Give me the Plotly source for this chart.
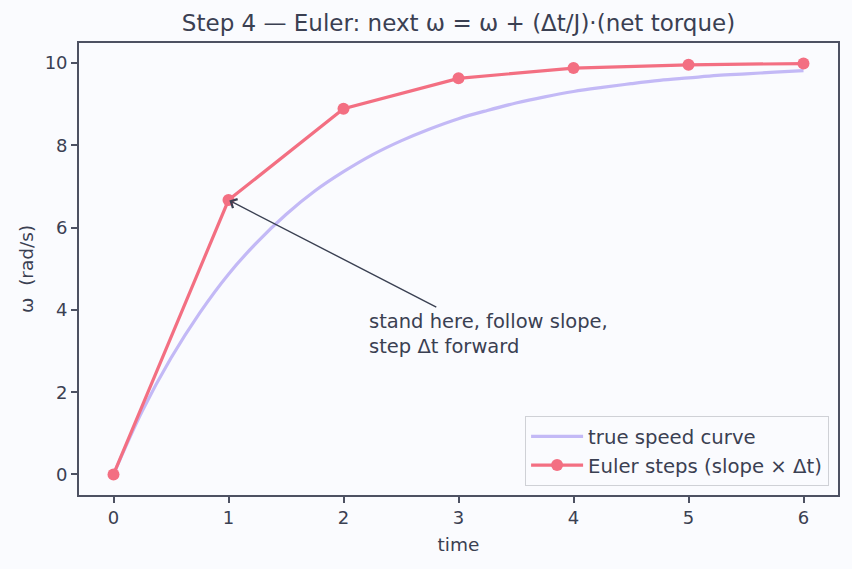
import plotly.graph_objects as go

# Data
true_t = [0, 0.25, 0.5, 0.75, 1, 1.25, 1.5, 1.75, 2, 2.25, 2.5, 2.75, 3, 3.25, 3.5,
          3.75, 4, 4.25, 4.5, 4.75, 5, 5.25, 5.5, 5.75, 6]
true_w = [0, 1.54, 2.83, 3.93, 4.87, 5.65, 6.32, 6.89, 7.36, 7.77, 8.11, 8.40, 8.65,
          8.85, 9.03, 9.18, 9.31, 9.41, 9.50, 9.58, 9.64, 9.70, 9.74, 9.78, 9.82]
euler_t = [0, 1, 2, 3, 4, 5, 6]
euler_w = [0, 6.67, 8.89, 9.63, 9.88, 9.96, 9.99]
x_ticks = [0, 1, 2, 3, 4, 5, 6]
y_ticks = [0, 2, 4, 6, 8, 10]

TXT = "#3a4052"
AX = "#4d5162"
FONT = "DejaVu Sans"

fig = go.Figure()
fig.add_trace(go.Scatter(x=true_t, y=true_w, mode="lines", name="true speed curve",
                         line=dict(color="#c3b9f6", width=3.2, shape="spline")))
fig.add_trace(go.Scatter(x=euler_t, y=euler_w, mode="lines+markers",
                         name="Euler steps (slope × Δt)",
                         line=dict(color="#f36f82", width=3.2),
                         marker=dict(color="#f36f82", size=12)))

# annotation text
fig.add_annotation(x=2.2, y=2.78, xref="x", yref="y", text="stand here, follow slope,<br>step Δt forward",
                   showarrow=False, xanchor="left", yanchor="bottom", align="left",
                   font=dict(family=FONT, size=19.5, color=TXT))
# arrow
fig.add_annotation(x=euler_t[1], y=euler_w[1], xref="x", yref="y", ax=2.82, ay=4.05,
                   axref="x", ayref="y", text="", showarrow=True, arrowhead=4,
                   arrowsize=1.4, arrowwidth=1.4, arrowcolor=TXT, standoff=1)

fig.update_layout(
    width=852, height=569,
    margin=dict(l=79, r=14, t=43, b=74),
    paper_bgcolor="#fafbfe", plot_bgcolor="#fafbfe",
    font=dict(family=FONT, size=18, color=TXT),
    title=dict(text="Step 4 — Euler: next ω = ω + (Δt/J)·(net torque)", x=0.5 * (79 + 838) / 852,
               xanchor="center", y=1 - 23 / 569, yanchor="middle",
               font=dict(family=FONT, size=23, color=TXT)),
    showlegend=True,
    legend=dict(x=0.988, y=0.02, xanchor="right", yanchor="bottom",
                bgcolor="rgba(250,251,254,0.9)", bordercolor="#cfd1d6", borderwidth=1.2,
                font=dict(family=FONT, size=19.7, color=TXT), itemwidth=52,
                tracegroupgap=0),
    xaxis=dict(range=[-0.3, 6.3], tickvals=x_ticks, ticks="outside", ticklen=6, tickcolor=AX,
               tickwidth=1.5, showline=True, linecolor=AX, linewidth=1.7, mirror=True,
               showgrid=False, zeroline=False,
               title=dict(text="time", font=dict(size=18.5), standoff=11),
               tickfont=dict(size=18)),
    yaxis=dict(range=[-0.4995, 10.4895], tickvals=y_ticks, ticks="outside", ticklen=6,
               tickcolor=AX, tickwidth=1.5, showline=True, linecolor=AX, linewidth=1.7,
               mirror=True, showgrid=False, zeroline=False,
               title=dict(text="ω  (rad/s)", font=dict(size=18.5), standoff=6),
               tickfont=dict(size=18)),
)

fig.write_html("out.html")
